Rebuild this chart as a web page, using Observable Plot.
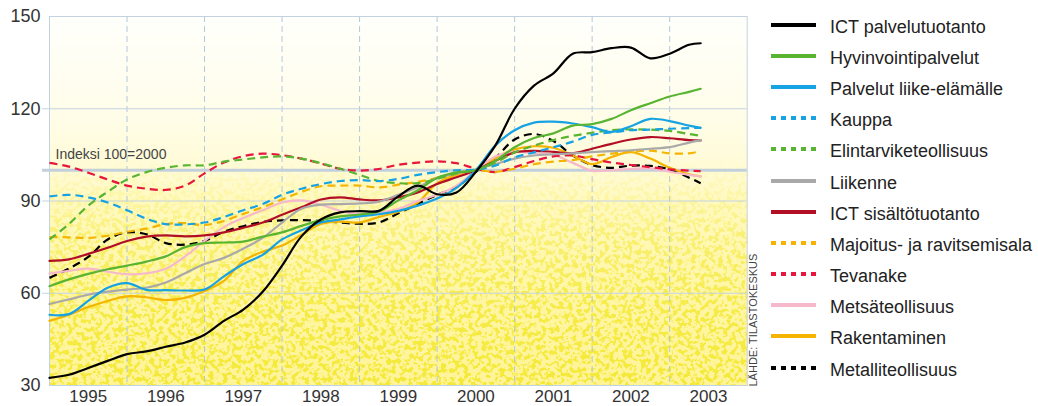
<!DOCTYPE html>
<html><head><meta charset="utf-8">
<script src="https://cdn.jsdelivr.net/npm/d3@7"></script>
<script src="https://cdn.jsdelivr.net/npm/@observablehq/plot@0.6"></script>
<style>
body{margin:0;background:#fff;font-family:"Liberation Sans",Arial,sans-serif;}
#wrap{position:relative;width:1038px;height:406px;overflow:hidden;}
#chart{position:absolute;left:0;top:0;}
#legend{position:absolute;left:771px;top:9px;}
.row{height:31.2px;display:flex;align-items:center;font-size:18px;color:#222;white-space:nowrap;}
.row svg{margin-right:14px;flex:none;}
.row span{position:relative;top:2.5px;}
</style></head><body>
<div id="wrap"><div id="chart"></div><div id="legend"></div></div>
<script>
// ---- data ----
const times = [1995, 1995.25, 1995.5, 1995.75, 1996, 1996.25, 1996.5, 1996.75, 1997, 1997.25, 1997.5, 1997.75,
  1998, 1998.25, 1998.5, 1998.75, 1999, 1999.25, 1999.5, 1999.75, 2000, 2000.25, 2000.5, 2000.75,
  2001, 2001.25, 2001.5, 2001.75, 2002, 2002.25, 2002.5, 2002.75, 2003, 2003.25, 2003.4];

const ictPalvelu   = [32.5, 33.5, 35.7, 38, 40.2, 41.1, 42.6, 44, 46.5, 51, 54.7, 60.5, 69, 78.5, 84, 86.3, 86.7, 86.8, 91.5, 95, 92.2, 92.8, 99.5, 108, 120, 127.5, 131.5, 137.9, 138.4, 139.7, 139.9, 136.4, 137.9, 140.8, 141.3];
const hyvinvointi  = [62.3, 64.5, 66.3, 67.8, 69, 70.3, 72, 75, 76.3, 76.5, 76.8, 78.4, 79.8, 81.9, 83.8, 85, 85.6, 86.6, 90.2, 93.5, 97.5, 99.3, 100, 103, 107.5, 110.5, 112, 114.5, 115, 116.7, 119.5, 121.8, 124, 125.5, 126.5];
const palvelut     = [53, 53.2, 57.5, 61.8, 63.3, 61.1, 61, 60.9, 61.2, 65.5, 69.5, 72.5, 77.5, 80.5, 83, 84, 85, 85.7, 86.8, 88.5, 90.8, 94.3, 100, 108, 113, 115.5, 115.8, 115.2, 114, 112.5, 114.3, 116.7, 116, 114.5, 113.8];
const kauppa       = [91.5, 92, 91.2, 89.5, 87, 84.2, 82.5, 82.4, 83, 84.8, 87, 89, 92, 94, 95.5, 96.5, 96.8, 96.5, 97.2, 98.5, 99.4, 100, 100.2, 101.5, 104.2, 105.8, 107.5, 109.3, 111.5, 112.3, 113, 113.2, 113.5, 113.7, 113.8];
const elintarvike  = [77.5, 82.5, 88.5, 93, 97, 99.4, 100.8, 101.6, 101.6, 102.8, 103.5, 104.2, 104.5, 103.8, 102.3, 100.5, 98.5, 96.5, 95.8, 95.8, 97.2, 99, 100, 102.5, 105.8, 108, 109.8, 111.2, 112.2, 113, 113.3, 113.2, 112.8, 111.8, 111.2];
const liikenne     = [56.5, 58, 59.5, 60.5, 61.2, 61.8, 63.5, 66.5, 69.5, 71.5, 74.5, 78, 83, 87.5, 88.8, 89, 89.2, 89.8, 92, 94.5, 97.5, 99, 100.3, 102, 103.8, 104.8, 105.2, 105.5, 105.9, 106.2, 106.5, 107, 107.5, 109, 109.8];
const ictSisalto   = [70.5, 71, 72.8, 74.8, 77, 78.4, 78.8, 78.5, 78.8, 79.8, 81.3, 83, 85.5, 88, 90.5, 91.2, 90.5, 90.2, 91.2, 92.8, 95.5, 97.7, 100, 103, 105.8, 106.3, 106, 105.5, 107, 108.6, 110, 110.8, 110.4, 109.8, 109.7];
const majoitus     = [78.3, 78.2, 78, 78.7, 80, 81, 82.5, 82.8, 82.2, 83.5, 85.8, 88, 90.5, 93, 94.8, 95, 95, 94.4, 95.3, 96.2, 97.5, 99, 100, 99.5, 100.5, 102, 102.8, 103.3, 104.5, 105.4, 106.1, 106.4, 105.5, 105.5, 106.2];
const tevanake     = [102.4, 101.2, 99.2, 97, 95, 94, 93.6, 95, 99, 102.5, 104.6, 105.4, 104.9, 103.8, 102.2, 100.5, 99.9, 100.4, 101.8, 102.5, 102.9, 102.3, 100.5, 99.4, 101, 103, 104.5, 104.8, 103.6, 102.5, 101.7, 101, 100.3, 99.9, 99.7];
const metsa        = [66.4, 67.3, 68, 67, 66.2, 66.5, 68, 72, 77, 81.5, 84.5, 87, 89.5, 90.2, 88.8, 86.8, 85.8, 86.2, 87.5, 90, 92, 95, 100, 104.5, 106, 105.5, 105, 102.4, 99.8, 100, 100.4, 100.6, 99.5, 98.5, 98];
const rakentaminen = [51, 53, 55.5, 57.5, 59, 58.7, 57.8, 58.5, 60.7, 64, 70.5, 73.5, 75.5, 79, 82.5, 83.3, 83, 84.8, 86.5, 89.5, 95.8, 98.5, 100, 104, 106.8, 107.8, 107.3, 104.8, 102, 104.3, 105.9, 103.8, 100.8, 98.7, 98];
const metalli      = [65, 68, 71.8, 77.5, 79.8, 79.2, 76.3, 75.8, 77, 80, 81.8, 83.2, 83.7, 83.8, 83.5, 83, 82.6, 83, 86, 89, 92, 94.5, 99.5, 104, 110, 111.8, 109.5, 104.8, 101.7, 100.8, 101.5, 101.4, 100.3, 97.6, 95.8];

const seriesNames = ["ICT palvelutuotanto", "Hyvinvointipalvelut", "Palvelut liike-elämälle", "Kauppa",
  "Elintarviketeollisuus", "Liikenne", "ICT sisältötuotanto", "Majoitus- ja ravitsemisala", "Tevanake",
  "Metsäteollisuus", "Rakentaminen", "Metalliteollisuus"];
const seriesValues = [ictPalvelu, hyvinvointi, palvelut, kauppa, elintarvike, liikenne, ictSisalto, majoitus, tevanake, metsa, rakentaminen, metalli];
const seriesColors = ["#000000", "#58b431", "#17a3e3", "#17a3e3", "#58b431", "#a9a9a9", "#b20f27", "#f5b400", "#e6163c", "#f6b9cc", "#f5b400", "#000000"];
const seriesDashed = [false, false, false, true, true, false, false, true, true, false, false, true];

const yearLabels = ["1995","1996","1997","1998","1999","2000","2001","2002","2003"];
const yearBounds = [1996, 1997, 1998, 1999, 2000, 2001, 2002, 2003];
const yTicks = [30, 60, 90, 120, 150];
const yGrid = [60, 90, 120];
const baseIndex = 100;
const indexLabel = "Indeksi 100=2000";
const sourceLabel = "LÄHDE: TILASTOKESKUS";

// ---- chart ----
const lineMarks = [];
for (let s = seriesNames.length - 1; s >= 0; s--) {
  const rows = times.map((t, i) => ({t, v: seriesValues[s][i]}));
  lineMarks.push(Plot.line(rows, {
    x: "t", y: "v", stroke: seriesColors[s], strokeWidth: 2.2,
    strokeDasharray: seriesDashed[s] ? "8,5" : null,
    strokeLinecap: seriesDashed[s] ? "butt" : "round",
    curve: "catmull-rom"
  }));
}

const plot = Plot.plot({
  width: 766, height: 406,
  marginLeft: 49, marginRight: 19.3, marginTop: 16, marginBottom: 21,
  x: {domain: [1995, 2004]},
  y: {domain: [30, 150]},
  style: {fontFamily: "'Liberation Sans', Arial, sans-serif", fontSize: "18px", color: "#333", background: "transparent", overflow: "visible"},
  marks: [
    Plot.frame({fill: "url(#bgGrad)"}),
    Plot.frame({fill: "#f4e939", ariaLabel: "noise"}),
    Plot.gridX(yearBounds, {stroke: "#b3c8dc", strokeOpacity: 1, strokeDasharray: "6,4"}),
    Plot.gridY(yGrid, {stroke: "#c4d3e2", strokeOpacity: 1}),
    Plot.axisY(yGrid, {tickSize: 7, stroke: "#c4d3e2", tickFormat: () => "", label: null}),
    Plot.axisY([baseIndex], {tickSize: 7, stroke: "#c3d0dc", strokeWidth: 3, tickFormat: () => "", label: null}),
    Plot.axisY(yTicks, {tickSize: 0, tickPadding: 9, fill: "#333", label: null}),
    Plot.axisX(yearLabels.map(d => +d + 0.5), {tickSize: 0, tickPadding: 4, fontSize: 17, tickFormat: d => String(Math.floor(d)), fill: "#333", label: null}),
    Plot.ruleY([baseIndex], {stroke: "#c3d0dc", strokeWidth: 3}),
    Plot.frame({stroke: "#c3d2e0"}),
    Plot.text([indexLabel], {x: 1995, y: baseIndex, dx: 6, dy: -15.5, textAnchor: "start", fontSize: 14, fill: "#444"}),
    Plot.text([sourceLabel], {frameAnchor: "bottom-right", rotate: -90, textAnchor: "start", dx: 10, dy: 1, fontSize: 11, fill: "#444", ariaLabel: "source"}),
    ...lineMarks
  ]
});

const svg = d3.select(plot);
const defs = svg.insert("defs", ":first-child");
defs.html(`
  <linearGradient id="bgGrad" x1="0" y1="0" x2="0" y2="1">
    <stop offset="0" stop-color="#fffffc"/>
    <stop offset="0.25" stop-color="#fffdea"/>
    <stop offset="0.42" stop-color="#fffbd6"/>
    <stop offset="0.5" stop-color="#fff9bf"/>
    <stop offset="0.75" stop-color="#fff6a6"/>
    <stop offset="1" stop-color="#fff49a"/>
  </linearGradient>
  <linearGradient id="maskGrad" x1="0" y1="0" x2="0" y2="1">
    <stop offset="0" stop-color="#000"/>
    <stop offset="0.38" stop-color="#000"/>
    <stop offset="0.5" stop-color="#3a3a3a"/>
    <stop offset="0.6" stop-color="#888"/>
    <stop offset="0.8" stop-color="#ddd"/>
    <stop offset="1" stop-color="#fff"/>
  </linearGradient>
  <mask id="noiseMask" maskContentUnits="objectBoundingBox">
    <rect width="1" height="1" fill="url(#maskGrad)"/>
  </mask>
  <filter id="noise" x="0" y="0" width="1" height="1" color-interpolation-filters="sRGB">
    <feTurbulence type="fractalNoise" baseFrequency="0.22" numOctaves="2" seed="7" result="t"/>
    <feColorMatrix in="t" type="matrix" values="0 0 0 0 0.957  0 0 0 0 0.914  0 0 0 0 0.22  9 0 0 0 -4.3" result="spots"/>
    <feComposite in="spots" in2="SourceGraphic" operator="in"/>
  </filter>
`);
let noise = svg.select('[aria-label="noise"]');
if (noise.node() && noise.node().tagName.toLowerCase() === "g") noise = noise.select("rect");
noise.attr("filter", "url(#noise)").attr("mask", "url(#noiseMask)");
svg.selectAll('[aria-label="source"] text').style("letter-spacing", "0.35px");

document.getElementById("chart").appendChild(plot);

// ---- legend ----
const legend = d3.select("#legend");
seriesNames.forEach((name, i) => {
  const row = legend.append("div").attr("class", "row");
  const sw = row.append("svg").attr("width", 45).attr("height", 8);
  sw.append("line").attr("x1", 0).attr("x2", 45).attr("y1", 4).attr("y2", 4)
    .attr("stroke", seriesColors[i]).attr("stroke-width", 4.2)
    .attr("stroke-dasharray", seriesDashed[i] ? "5,5" : null);
  row.append("span").text(name);
});
</script>
</body></html>
